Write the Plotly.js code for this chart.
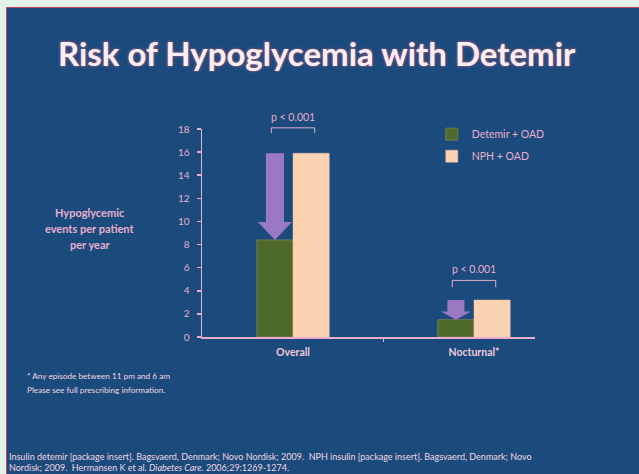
<!DOCTYPE html>
<html><head><meta charset="utf-8">
<script src="https://cdn.plot.ly/plotly-3.0.1.min.js"></script>
<style>
html,body{margin:0;padding:0;background:#e2f2e8;width:639px;height:474px;overflow:hidden}
#wrap{position:absolute;left:6px;top:7px;width:633px;height:467px;border-top:1px solid #c0485a;border-left:1px solid #c0485a;background:#1b4a7d}
#chart{width:632px;height:466px}
</style></head><body>
<div id="wrap"><div id="chart"></div></div>
<script>
const categories = ["Overall", "Nocturnal*"];
const seriesNames = ["Detemir + OAD", "NPH + OAD"];
const detemir = [8.4, 1.5];
const nph = [15.9, 3.2];
const yTicks = [0, 2, 4, 6, 8, 10, 12, 14, 16, 18];
const pLabels = ["p < 0.001", "p < 0.001"];

const BLUE = "#1b4a7d", GREEN = "#4d6a2b", PEACH = "#fcd3b2", PURPLE = "#9a79c2", PINK = "#e9aecb";
const FONT = "Lato, sans-serif";
const xs = categories.map((c, i) => i);
const off = 0.1;
const XR = [-0.503, 1.337], YR = [0, 18];
const px = x => (x - XR[0]) / (XR[1] - XR[0]);
const py = y => (y - YR[0]) / (YR[1] - YR[0]);

const traces = [
  {type: "bar", name: seriesNames[0], x: xs, y: detemir, marker: {color: GREEN, line: {color: "#8a7f58", width: 0.8}}, legendgroup: "a"},
  {type: "bar", name: seriesNames[1], x: xs, y: nph, marker: {color: PEACH, line: {color: "#f0c0a0", width: 0.5}}, legendgroup: "b"}
];

const shapes = [];
const annotations = [];
// arrows from NPH level down to Detemir level
const shaftHW = [0.05, 0.047], headHW = [0.094, 0.083], headLen = [1.55, 0.7];
xs.forEach((x, i) => {
  const cx = x - off, top = nph[i], tip = detemir[i];
  const hb = tip + headLen[i];
  shapes.push({type: "path", xref: "x", yref: "y", layer: "above",
    path: `M${cx-shaftHW[i]},${top} L${cx+shaftHW[i]},${top} L${cx+shaftHW[i]},${hb} L${cx+headHW[i]},${hb} L${cx},${tip} L${cx-headHW[i]},${hb} L${cx-shaftHW[i]},${hb} Z`,
    fillcolor: PURPLE, line: {width: 0}});
});
// brackets + p labels (paper coords so they are not clipped)
const bTop = [18.1, 4.9], bLeg = [0.45, 0.6];
xs.forEach((x, i) => {
  const x0 = px(x - off - 0.02), x1 = px(x + off + 0.02);
  const yt = py(bTop[i]), yb = py(bTop[i] - bLeg[i]);
  shapes.push({type: "path", xref: "paper", yref: "paper",
    path: `M${x0},${yb} L${x0},${yt} L${x1},${yt} L${x1},${yb}`,
    line: {color: PINK, width: 1}});
  annotations.push({xref: "paper", yref: "paper", x: px(x), y: yt, yshift: 11, xanchor: "center", yanchor: "middle", text: pLabels[i], showarrow: false,
    font: {family: FONT, size: 10.5, color: PINK}});
});

// y-axis label (three lines)
["Hypoglycemic", "events per patient", "per year"].forEach((t, k) => {
  annotations.push({xref: "paper", yref: "paper", x: (90 - 202) / 333, y: (337 - (212 + 16 * k)) / 208, xanchor: "center", yanchor: "middle",
    text: "<b>" + t + "</b>", showarrow: false, font: {family: FONT, size: 11, color: PINK}});
});
// footnotes
const notes = [
  {t: "* Any episode between 11 pm and 6 am", x: 25, y: 376, s: 8.2},
  {t: "Please see full prescribing information.", x: 25, y: 390, s: 8.2},
  {t: "Insulin detemir [package insert]. Bagsvaerd, Denmark; Novo Nordisk; 2009.  NPH insulin [package insert]. Bagsvaerd, Denmark; Novo", x: 7, y: 456, s: 9},
  {t: "Nordisk; 2009.  Hermansen K et al. <i>Diabetes Care.</i> 2006;29:1269-1274.", x: 7, y: 467, s: 9}
];
notes.forEach(n => annotations.push({xref: "paper", yref: "paper", x: (n.x - 202) / 333, y: (337 - n.y) / 208,
  xanchor: "left", yanchor: "middle", text: n.t, showarrow: false, font: {family: FONT, size: n.s, color: "#f2d6e2"}}));

const layout = {
  width: 632, height: 466,
  margin: {l: 195, r: 104, t: 121, b: 137, pad: 0},
  paper_bgcolor: BLUE, plot_bgcolor: BLUE,
  title: {text: "Risk of Hypoglycemia with Detemir", xref: "container", yref: "container", x: 0.49, y: 0.9, xanchor: "center", yanchor: "middle",
    font: {family: FONT, size: 33, weight: 700, color: "#fbeef3", shadow: "0 0 3px #d3657f"}},
  barmode: "group", bargap: 0.6, bargroupgap: 0,
  xaxis: {range: XR, tickvals: xs, ticktext: categories.map(c => "<b>" + c + "</b>"), showgrid: false, zeroline: false,
    showline: true, linecolor: PINK, linewidth: 1.5, ticks: "", ticklabelstandoff: 5, tickfont: {family: FONT, size: 10.5, color: "#f0c8d8"},
    minor: {tickvals: [0.5], ticks: "outside", ticklen: 3, tickcolor: PINK, tickwidth: 1.5, showgrid: false}, fixedrange: true},
  yaxis: {range: YR, tickvals: yTicks, showgrid: false, zeroline: false, showline: true, linecolor: PINK, linewidth: 1.5,
    ticks: "outside", ticklen: 4, tickcolor: PINK, tickwidth: 1.5, ticklabelstandoff: 5, tickfont: {family: FONT, size: 10, color: PINK}, fixedrange: true},
  showlegend: true,
  legend: {x: 0.69, y: 1.045, xanchor: "left", yanchor: "top", bgcolor: "rgba(0,0,0,0)", traceorder: "grouped", tracegroupgap: 3,
    font: {family: FONT, size: 10.5, color: PINK}},
  shapes: shapes, annotations: annotations
};
Plotly.newPlot("chart", traces, layout, {displayModeBar: false, staticPlot: true});
</script></body></html>
